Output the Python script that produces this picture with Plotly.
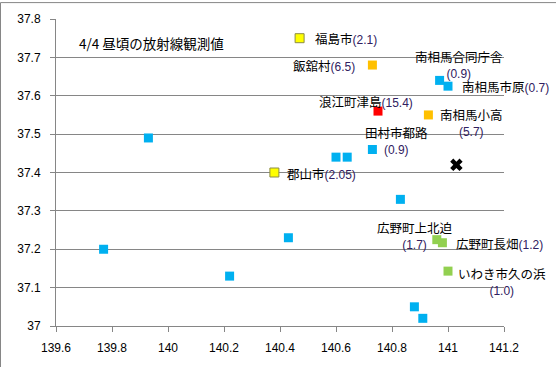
import plotly.graph_objects as go

# ---------------- data ----------------
x_ticks = [139.6, 139.8, 140.0, 140.2, 140.4, 140.6, 140.8, 141.0, 141.2]
x_tick_labels = ["139.6", "139.8", "140", "140.2", "140.4", "140.6", "140.8", "141", "141.2"]
y_ticks = [37.0, 37.1, 37.2, 37.3, 37.4, 37.5, 37.6, 37.7, 37.8]
y_tick_labels = ["37", "37.1", "37.2", "37.3", "37.4", "37.5", "37.6", "37.7", "37.8"]

title_text = "4/4 昼頃の放射線観測値"

# unlabeled observation points (blue, < 1)
other_lon = [139.77, 139.93, 140.22, 140.43, 140.60, 140.64, 140.83, 140.88, 140.91]
other_lat = [37.20, 37.49, 37.13, 37.23, 37.44, 37.44, 37.33, 37.05, 37.02]

# labeled points by colour group
blue_names = ["田村市都路", "南相馬合同庁舎", "南相馬市原"]
blue_values = ["0.9", "0.9", "0.7"]
blue_lon = [140.73, 140.97, 141.00]
blue_lat = [37.46, 37.64, 37.625]

yellow_names = ["福島市", "郡山市"]
yellow_values = ["2.1", "2.05"]
yellow_lon = [140.47, 140.38]
yellow_lat = [37.75, 37.40]

orange_names = ["飯舘村", "南相馬小高"]
orange_values = ["6.5", "5.7"]
orange_lon = [140.73, 140.93]
orange_lat = [37.68, 37.55]

red_names = ["浪江町津島"]
red_values = ["15.4"]
red_lon = [140.75]
red_lat = [37.56]

green_names = ["広野町上北迫", "広野町長畑", "いわき市久の浜"]
green_values = ["1.7", "1.2", "1.0"]
green_lon = [140.96, 140.98, 141.00]
green_lat = [37.225, 37.217, 37.143]

plant_lon = [141.03]
plant_lat = [37.42]

# ---------------- styles ----------------
W, H = 556, 367
ML, MR, MT, MB = 56, 52, 17, 41
GRID = "#868686"
NUM_COLOR = "#302060"
JP_FONT = "Noto Sans CJK JP"
NUM_FONT = "Liberation Sans"

# label layout: (two_line, xanchor, xshift, yshift)
label_style = {
    "福島市": (False, "left", 13, 0),
    "郡山市": (False, "left", 11, -1),
    "飯舘村": (False, "right", -15, 0),
    "南相馬小高": (True, "left", 10, -7),
    "浪江町津島": (False, "center", -12, 10),
    "南相馬合同庁舎": (True, "center", 19, 16),
    "南相馬市原": (False, "left", 12, 0),
    "田村市都路": (True, "center", 24, 9),
    "広野町上北迫": (True, "center", -22, 5),
    "広野町長畑": (False, "left", 12, -1),
    "いわき市久の浜": (True, "left", 8, -10),
}

fig = go.Figure()


def add_series(lon, lat, color, line_color=None, size=9):
    fig.add_trace(go.Scatter(
        x=lon, y=lat, mode="markers",
        marker=dict(symbol="square", size=size, color=color,
                    line=dict(width=1 if line_color else 0, color=line_color or color)),
        showlegend=False, hoverinfo="skip",
    ))


add_series(other_lon, other_lat, "#00B0F0")
add_series(blue_lon, blue_lat, "#00B0F0")
add_series(yellow_lon, yellow_lat, "#FFFF00", line_color="#8C8C46", size=9)
add_series(orange_lon, orange_lat, "#FFC000")
add_series(red_lon, red_lat, "#FF0000")
add_series(green_lon, green_lat, "#92D050")

fig.add_trace(go.Scatter(
    x=plant_lon, y=plant_lat, mode="markers",
    marker=dict(symbol="x", size=11, color="#000000", line=dict(width=0)),
    showlegend=False, hoverinfo="skip",
))

annotations = []
for names, vals, lons, lats in [
    (blue_names, blue_values, blue_lon, blue_lat),
    (yellow_names, yellow_values, yellow_lon, yellow_lat),
    (orange_names, orange_values, orange_lon, orange_lat),
    (red_names, red_values, red_lon, red_lat),
    (green_names, green_values, green_lon, green_lat),
]:
    for n, v, lo, la in zip(names, vals, lons, lats):
        two, xa, xs, ys = label_style[n]
        num = f"<span style='font-family:{NUM_FONT};font-size:12px;color:{NUM_COLOR}'>({v})</span>"
        txt = f"{n}<br>{num}" if two else f"{n}{num}"
        annotations.append(dict(
            x=lo, y=la, xref="x", yref="y", text=txt, showarrow=False,
            xanchor=xa, yanchor="middle", xshift=xs, yshift=ys, align="center",
            font=dict(family=JP_FONT, size=12.5, color="#000000"),
        ))

pw = W - ML - MR
ph = H - MT - MB
annotations.append(dict(
    x=(77 - ML) / pw, y=1 - (41 - MT) / ph, xref="paper", yref="paper",
    text=title_text, showarrow=False, xanchor="left", yanchor="middle",
    font=dict(family=JP_FONT, size=13.5, color="#000000"),
))

# chart-area border (only top and left visible in the crop)
bx = (0.5 - ML) / pw
by = 1 + (MT - 0.5) / ph
shapes = [
    dict(type="line", xref="paper", yref="paper", x0=bx, x1=bx, y0=-MB / ph - 0.01, y1=by,
         line=dict(color=GRID, width=1)),
    dict(type="line", xref="paper", yref="paper", x0=bx, x1=1 + MR / pw + 0.01, y0=by, y1=by,
         line=dict(color=GRID, width=1)),
]

fig.update_layout(
    width=W, height=H,
    margin=dict(l=ML, r=MR, t=MT, b=MB),
    paper_bgcolor="#FFFFFF", plot_bgcolor="#FFFFFF",
    annotations=annotations, shapes=shapes,
    font=dict(family=NUM_FONT, size=12, color="#000000"),
    xaxis=dict(
        range=[139.6, 141.2], tickvals=x_ticks, ticktext=x_tick_labels,
        showgrid=False, zeroline=False, showline=True, linecolor=GRID, linewidth=1,
        ticks="outside", ticklen=5, tickcolor=GRID, tickwidth=1,
        tickfont=dict(family=NUM_FONT, size=12, color="#000000"),
        ticklabelstandoff=6,
    ),
    yaxis=dict(
        range=[37.0, 37.8], tickvals=y_ticks, ticktext=y_tick_labels,
        showgrid=True, gridcolor=GRID, gridwidth=1, zeroline=False,
        showline=True, linecolor=GRID, linewidth=1,
        ticks="outside", ticklen=5, tickcolor=GRID, tickwidth=1,
        tickfont=dict(family=NUM_FONT, size=12, color="#000000"),
        ticklabelstandoff=7,
    ),
)

fig.write_html(
    "out.html",
    config={"displayModeBar": False},
    post_script="document.body.style.margin='0';document.body.style.overflow='hidden';",
)
